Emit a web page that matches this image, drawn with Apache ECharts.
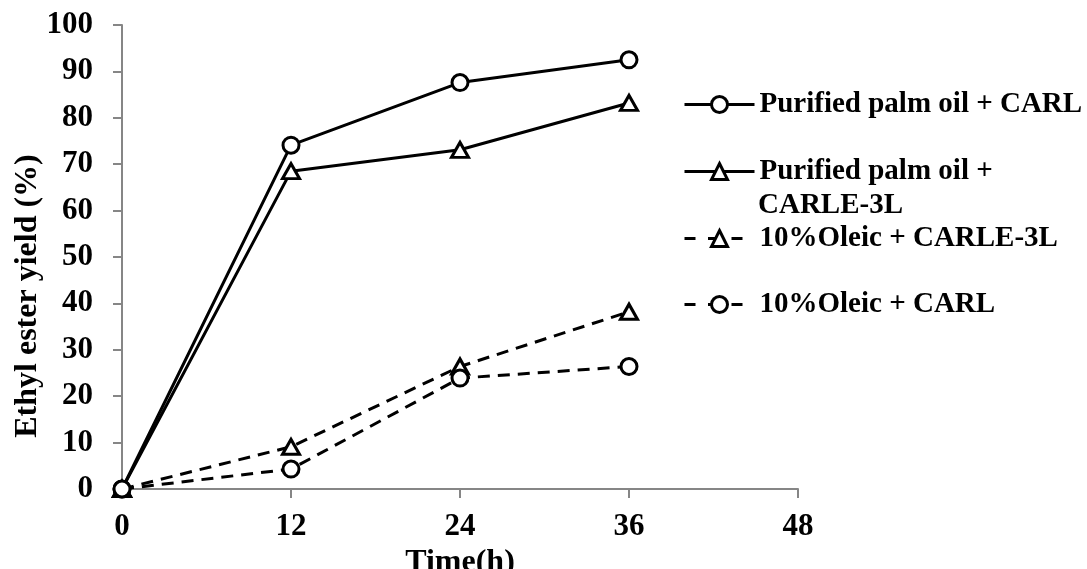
<!DOCTYPE html>
<html>
<head>
<meta charset="utf-8">
<script src="https://cdn.jsdelivr.net/npm/echarts@6/dist/echarts.min.js"></script>
<style>
  html, body { margin: 0; padding: 0; background: #fff; }
  #chart { width: 1087px; height: 569px; }
</style>
</head>
<body>
<div id="chart"></div>
<script>
// Reaction time (h) and ethyl ester yield (%) for each oil / lipase pair
const timeHours = [0, 12, 24, 36];
const palmCARL = [0, 74.1, 87.6, 92.5];
const palmCARLE3L = [0, 68.5, 73.1, 83.2];
const oleicCARLE3L = [0, 9.1, 26.4, 38.2];
const oleicCARL = [0, 4.3, 23.9, 26.4];

const seriesNames = [
  'Purified palm oil + CARL',
  'Purified palm oil + CARLE-3L',
  '10%Oleic + CARLE-3L',
  '10%Oleic + CARL'
];

const FONT = '"Liberation Serif", "Times New Roman", serif';
const AXIS_GRAY = '#868686';

function pairs(values) {
  return timeHours.map((t, i) => [t, values[i]]);
}

function lineSeries(name, values, symbol, dashed) {
  return {
    name: name,
    type: 'line',
    data: pairs(values),
    symbol: symbol,
    symbolSize: symbol === 'triangle' ? [17, 15] : 16,
    showAllSymbol: true,
    lineStyle: { color: '#000', width: 3, type: dashed ? [12, 8] : 'solid' },
    itemStyle: { color: '#fff', borderColor: '#000', borderWidth: 3 },
    emphasis: { disabled: true },
    animation: false
  };
}

// One legend block per series so each row sits at its own height
function legendFor(name, top, dashed, label) {
  return {
    data: [name],
    left: 683,
    top: top,
    padding: 0,
    selectedMode: false,
    itemWidth: 70,
    itemHeight: 20,
    itemGap: 0,
    formatter: label ? () => label : undefined,
    lineStyle: { color: '#000', width: 3, type: dashed ? [11, 12.5] : 'solid' },
    itemStyle: { color: '#fff', borderColor: '#000', borderWidth: 3 },
    textStyle: {
      fontFamily: FONT, fontWeight: 'bold', fontSize: 29, color: '#000',
      lineHeight: 33
    }
  };
}

const chart = echarts.init(document.getElementById('chart'), null, { renderer: 'canvas' });
chart.setOption({
  backgroundColor: '#fff',
  animation: false,
  grid: { left: 122, right: 289, top: 25, bottom: 80, outerBoundsMode: 'none', containLabel: false },
  xAxis: {
    type: 'value',
    min: 0, max: 48, interval: 12,
    name: 'Time(h)',
    nameLocation: 'middle',
    nameGap: 49,
    nameTextStyle: { fontFamily: FONT, fontWeight: 'bold', fontSize: 32, color: '#000' },
    axisLine: { show: true, lineStyle: { color: AXIS_GRAY, width: 2 } },
    axisTick: { show: true, length: 9, lineStyle: { color: AXIS_GRAY, width: 2 } },
    axisLabel: { fontFamily: FONT, fontWeight: 'bold', fontSize: 31, color: '#000', margin: 22 },
    splitLine: { show: false }
  },
  yAxis: {
    type: 'value',
    min: 0, max: 100, interval: 10,
    axisLine: { show: true, lineStyle: { color: AXIS_GRAY, width: 2 } },
    axisTick: { show: true, length: 9, lineStyle: { color: AXIS_GRAY, width: 2 } },
    axisLabel: { fontFamily: FONT, fontWeight: 'bold', fontSize: 31, color: '#000', margin: 29 },
    splitLine: { show: false }
  },
  legend: [
    legendFor(seriesNames[0], 88, false),
    legendFor(seriesNames[1], 155, false, 'Purified palm oil +'),
    legendFor(seriesNames[2], 222, true),
    legendFor(seriesNames[3], 288, true)
  ],
  graphic: [{
    type: 'text',
    x: 28,
    y: 296,
    rotation: Math.PI / 2,
    style: {
      text: 'Ethyl ester yield (%)',
      fontFamily: FONT, fontWeight: 'bold', fontSize: 32, fill: '#000',
      textAlign: 'center', textVerticalAlign: 'middle'
    }
  }, {
    // second line of the wrapped legend label
    type: 'text',
    left: 758,
    top: 189,
    style: {
      text: 'CARLE-3L',
      fontFamily: FONT, fontWeight: 'bold', fontSize: 29, fill: '#000',
      lineHeight: 33
    }
  }],
  series: [
    lineSeries(seriesNames[0], palmCARL, 'circle', false),
    lineSeries(seriesNames[1], palmCARLE3L, 'triangle', false),
    lineSeries(seriesNames[2], oleicCARLE3L, 'triangle', true),
    lineSeries(seriesNames[3], oleicCARL, 'circle', true)
  ]
});
</script>
</body>
</html>
